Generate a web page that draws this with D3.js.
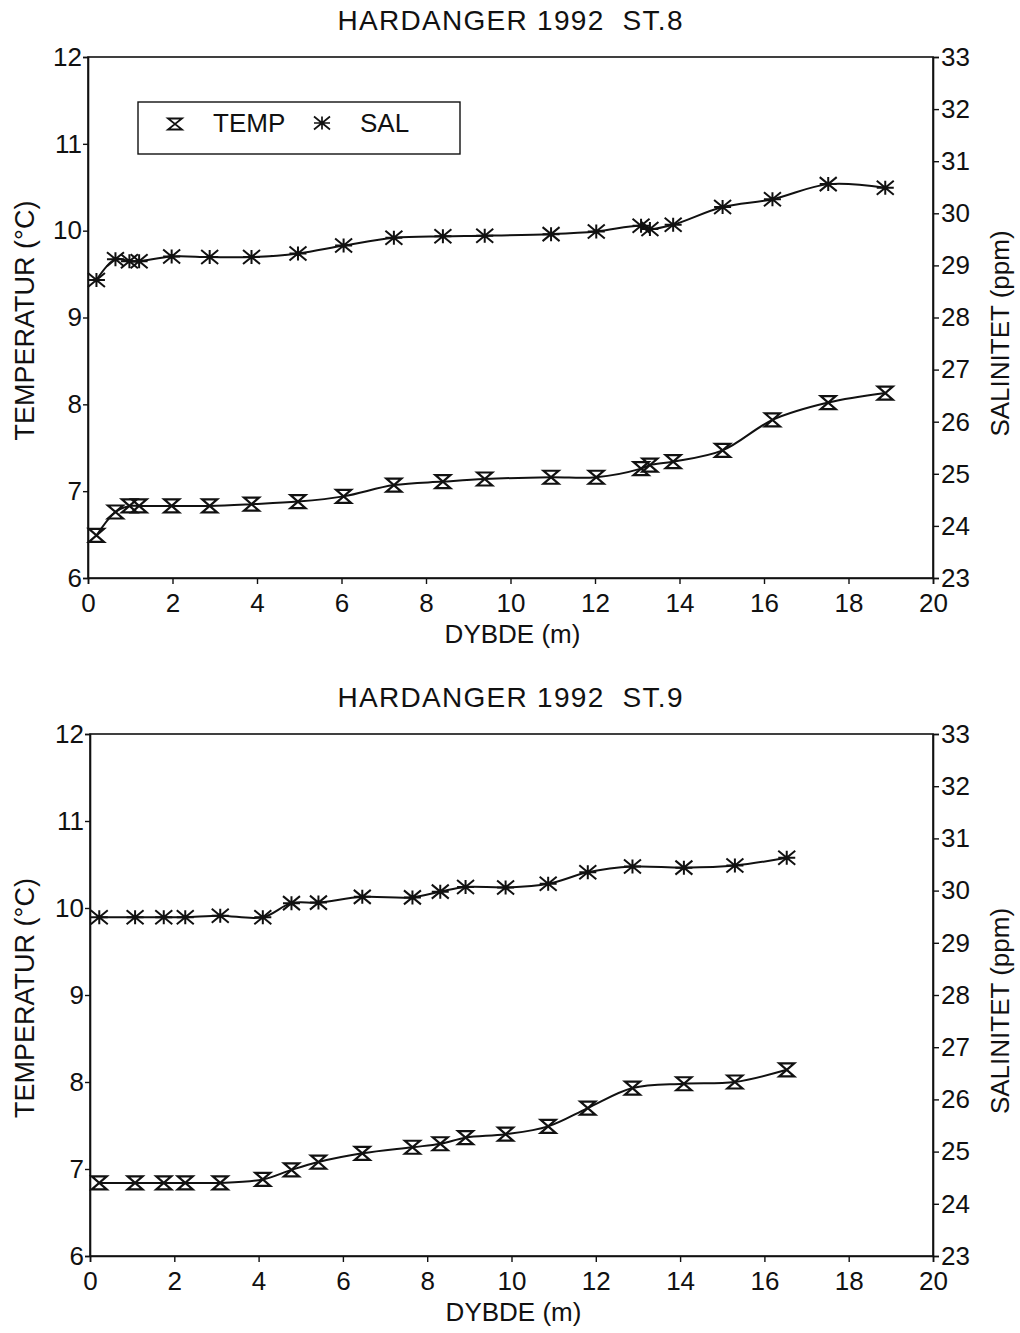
<!DOCTYPE html>
<html>
<head>
<meta charset="utf-8">
<script src="https://cdn.jsdelivr.net/npm/d3@7"></script>
<style>
  html, body { margin: 0; padding: 0; background: #fff; }
  svg { display: block; }
  text { font-family: "Liberation Sans", Arial, Helvetica, sans-serif; fill: #111; white-space: pre; }
</style>
</head>
<body>
<svg id="chart" width="1020" height="1333"></svg>
<script>
// ---------- DATA ----------
const titles = ["HARDANGER 1992  ST.8", "HARDANGER 1992  ST.9"];
const seriesNames = ["TEMP", "SAL"];
const xLabel = "DYBDE (m)";
const yLeftLabel = "TEMPERATUR (\u00B0C)";
const yRightLabel = "SALINITET (ppm)";

const xTicks = [0, 2, 4, 6, 8, 10, 12, 14, 16, 18, 20];
const tempTicks = [6, 7, 8, 9, 10, 11, 12];
const salTicks = [23, 24, 25, 26, 27, 28, 29, 30, 31, 32, 33];

// Station 8
const depth8 = [0.2, 0.65, 0.98, 1.21, 1.98, 2.88, 3.87, 4.97, 6.05, 7.24, 8.40, 9.39, 10.96, 12.03, 13.09, 13.30, 13.85, 15.02, 16.20, 17.52, 18.87];
const temp8  = [6.49, 6.76, 6.83, 6.83, 6.83, 6.83, 6.85, 6.88, 6.94, 7.07, 7.11, 7.14, 7.16, 7.16, 7.26, 7.30, 7.34, 7.47, 7.82, 8.02, 8.13];
const sal8   = [28.72, 29.12, 29.08, 29.08, 29.17, 29.16, 29.16, 29.23, 29.38, 29.53, 29.56, 29.57, 29.60, 29.65, 29.76, 29.70, 29.78, 30.12, 30.27, 30.56, 30.49];

// Station 9
const depth9 = [0.22, 1.07, 1.75, 2.26, 3.09, 4.10, 4.78, 5.42, 6.46, 7.65, 8.31, 8.91, 9.86, 10.87, 11.81, 12.87, 14.09, 15.30, 16.53];
const temp9  = [6.84, 6.84, 6.84, 6.84, 6.84, 6.88, 6.99, 7.08, 7.18, 7.25, 7.29, 7.36, 7.40, 7.49, 7.70, 7.93, 7.98, 8.00, 8.14];
const sal9   = [29.49, 29.49, 29.49, 29.49, 29.52, 29.49, 29.76, 29.77, 29.88, 29.87, 29.98, 30.07, 30.06, 30.13, 30.35, 30.46, 30.44, 30.48, 30.63];

// ---------- DRAW ----------
const svg = d3.select("#chart");
const INK = "#111";
const FONT = '"Liberation Sans", Arial, Helvetica, sans-serif';

function hourglass(w, h) {
  return `M${-w},${-h}L${w},${-h}L${-w},${h}L${w},${h}Z`;
}
function asterisk(w, h) {
  return `M${-w},${-h}L${w},${h}M${-w},${h}L${w},${-h}M${-w},0L${w},0M0,${-h}L0,${h}`;
}

function drawPanel(p) {
  const g = svg.append("g");
  const x = d3.scaleLinear().domain([0, 20]).range([p.left, p.right]);
  const yT = d3.scaleLinear().domain([6, 12]).range([p.bottom, p.top]);
  const yS = d3.scaleLinear().domain([23, 33]).range([p.bottom, p.top]);
  const fmt = d3.format("d");

  // frame
  g.append("rect").attr("x", p.left).attr("y", p.top)
    .attr("width", p.right - p.left).attr("height", p.bottom - p.top)
    .attr("fill", "none").attr("stroke", INK).attr("stroke-width", 1.6);

  // axes
  const ax = g.append("g").attr("transform", `translate(0,${p.bottom})`)
    .call(d3.axisBottom(x).tickValues(xTicks).tickFormat(fmt).tickSize(6).tickPadding(10));
  const ayL = g.append("g").attr("transform", `translate(${p.left},0)`)
    .call(d3.axisLeft(yT).tickValues(tempTicks).tickFormat(fmt).tickSize(5).tickPadding(1));
  const ayR = g.append("g").attr("transform", `translate(${p.right},0)`)
    .call(d3.axisRight(yS).tickValues(salTicks).tickFormat(fmt).tickSize(6).tickPadding(2));
  [ax, ayL, ayR].forEach(a => {
    a.attr("font-size", 26).attr("font-family", FONT);
    a.select(".domain").attr("stroke", INK).attr("stroke-width", 1.6);
    a.selectAll(".tick line").attr("stroke", INK).attr("stroke-width", 1.4);
    a.selectAll(".tick text").attr("fill", INK);
  });

  // titles / labels
  g.append("text").attr("x", 510).attr("y", p.top - 27).attr("text-anchor", "middle")
    .attr("font-size", 28).attr("textLength", 345).attr("lengthAdjust", "spacing").text(p.title);
  g.append("text").attr("x", (p.left + p.right) / 2 + 2).attr("y", p.bottom + 65)
    .attr("text-anchor", "middle").attr("font-size", 26).text(xLabel);
  g.append("text").attr("transform", `translate(34,${(p.top + p.bottom) / 2 + 3}) rotate(-90)`)
    .attr("text-anchor", "middle").attr("font-size", 27).text(yLeftLabel);
  g.append("text").attr("transform", `translate(1009,${(p.top + p.bottom) / 2 + 16}) rotate(-90)`)
    .attr("text-anchor", "middle").attr("font-size", 26).text(yRightLabel);

  const tData = p.depth.map((d, i) => [d, p.temp[i]]);
  const sData = p.depth.map((d, i) => [d, p.sal[i]]);

  const lineT = d3.line().x(d => x(d[0])).y(d => yT(d[1])).curve(d3.curveCatmullRom.alpha(0.5));
  const lineS = d3.line().x(d => x(d[0])).y(d => yS(d[1])).curve(d3.curveCatmullRom.alpha(0.5));

  g.append("path").attr("d", lineT(tData)).attr("fill", "none")
    .attr("stroke", INK).attr("stroke-width", 2);
  g.append("path").attr("d", lineS(sData)).attr("fill", "none")
    .attr("stroke", INK).attr("stroke-width", 2);

  g.selectAll(".mt").data(tData).join("path").attr("class", "mt")
    .attr("transform", d => `translate(${x(d[0])},${yT(d[1])})`)
    .attr("d", hourglass(7.5, 6.5)).attr("fill", "none").attr("stroke", INK).attr("stroke-width", 2.2);
  g.selectAll(".ms").data(sData).join("path").attr("class", "ms")
    .attr("transform", d => `translate(${x(d[0])},${yS(d[1])})`)
    .attr("d", asterisk(8.5, 7)).attr("fill", "none").attr("stroke", INK).attr("stroke-width", 2);

  if (p.legend) {
    const lg = g.append("g");
    lg.append("rect").attr("x", 138).attr("y", 102).attr("width", 322).attr("height", 52)
      .attr("fill", "#fff").attr("stroke", INK).attr("stroke-width", 1.4);
    lg.append("path").attr("transform", "translate(175,124)").attr("d", hourglass(7, 5.5))
      .attr("fill", "none").attr("stroke", INK).attr("stroke-width", 1.8);
    lg.append("text").attr("x", 213).attr("y", 132).attr("font-size", 26).text(seriesNames[0]);
    lg.append("path").attr("transform", "translate(322,123)").attr("d", asterisk(8, 6.5))
      .attr("fill", "none").attr("stroke", INK).attr("stroke-width", 1.7);
    lg.append("text").attr("x", 360).attr("y", 132).attr("font-size", 26).text(seriesNames[1]);
  }
}

drawPanel({ title: titles[0], left: 88, right: 933, top: 57, bottom: 578,
  depth: depth8, temp: temp8, sal: sal8, legend: true });
drawPanel({ title: titles[1], left: 90, right: 933, top: 734, bottom: 1256,
  depth: depth9, temp: temp9, sal: sal9, legend: false });
</script>
</body>
</html>
